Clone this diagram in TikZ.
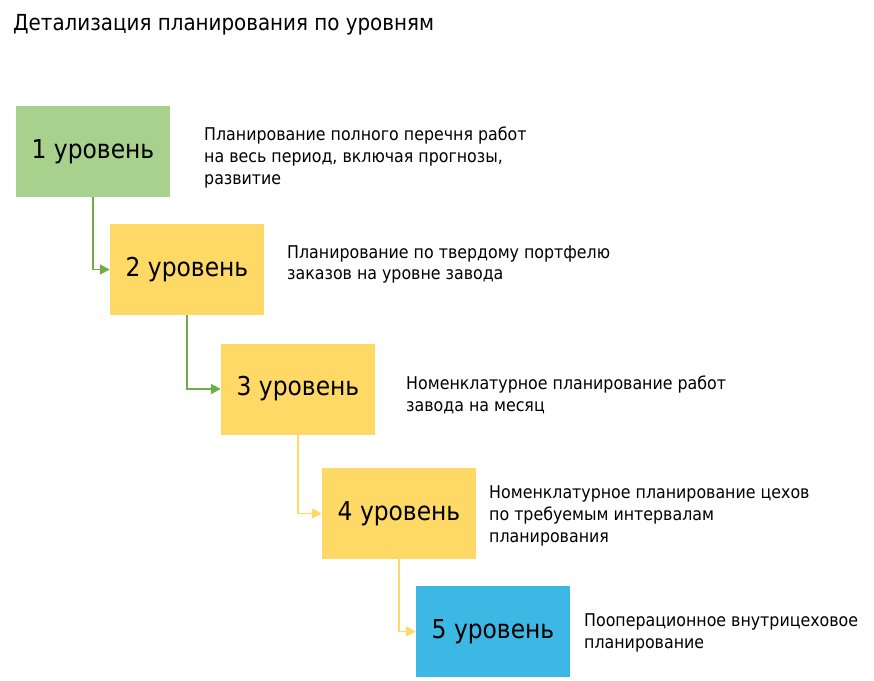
\documentclass[tikz,border=0pt]{standalone}
\usepackage{fontspec}
\setmainfont{DejaVu Sans Condensed}
\usetikzlibrary{arrows.meta}
\definecolor{boxgreen}{HTML}{A9D18E}
\definecolor{boxyellow}{HTML}{FFD966}
\definecolor{boxblue}{HTML}{3DB7E4}
\definecolor{linegreen}{HTML}{70AD47}
\definecolor{lineyellow}{HTML}{FFD966}
\tikzset{
  levelbox/.style={minimum width=154pt, minimum height=91pt, inner sep=0pt, font=\fontsize{26}{30}\selectfont, text=black},
  desc/.style={anchor=base west, inner sep=0pt, font=\fontsize{17.6}{21}\selectfont, text=black},
  conn/.style={line width=1.9pt, -{Triangle[length=10pt,width=10pt]}}
}
\begin{document}
\begin{tikzpicture}[x=1pt,y=-1pt]
\useasboundingbox[fill=white] (0,0) rectangle (874,680);
\node[anchor=base west, inner sep=0pt, font=\fontsize{22.1}{26}\selectfont] (title) at (13,30) {Детализация планирования по уровням};

\node[levelbox, fill=boxgreen] (l1) at (93,151.5) {1 уровень};
\node[levelbox, fill=boxyellow] (l2) at (187,269.5) {2 уровень};
\node[levelbox, fill=boxyellow] (l3) at (298,389) {3 уровень};
\node[levelbox, fill=boxyellow] (l4) at (399,513.5) {4 уровень};
\node[levelbox, fill=boxblue] (l5) at (493,631.5) {5 уровень};

\draw[conn, linegreen] (l1.south) |- (l2.west);
\draw[conn, linegreen] (l2.south) |- (l3.west);
\draw[conn, lineyellow] (l3.south) |- (l4.west);
\draw[conn, lineyellow] (l4.south) |- (l5.west);

\node[desc] (d1a) at (204,140) {Планирование полного перечня работ};
\node[desc] (d1b) at (204,162) {на весь период, включая прогнозы,};
\node[desc] (d1c) at (204,184) {развитие};

\node[desc] (d2a) at (287,258) {Планирование по твердому портфелю};
\node[desc] (d2b) at (287,279) {заказов на уровне завода};

\node[desc] (d3a) at (406,389) {Номенклатурное планирование работ};
\node[desc] (d3b) at (406,411) {завода на месяц};

\node[desc] (d4a) at (489,498) {Номенклатурное планирование цехов};
\node[desc] (d4b) at (489,520) {по требуемым интервалам};
\node[desc] (d4c) at (489,542) {планирования};

\node[desc] (d5a) at (584,626) {Пооперационное внутрицеховое};
\node[desc] (d5b) at (584,648) {планирование};
\end{tikzpicture}
\end{document}
